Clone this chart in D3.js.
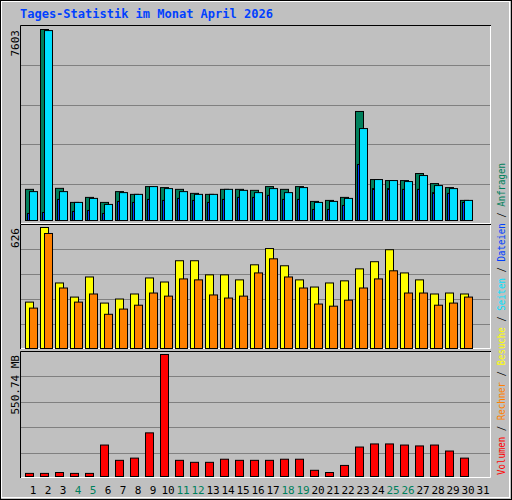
<!DOCTYPE html>
<html>
<head>
<meta charset="utf-8">
<script src="https://cdn.jsdelivr.net/npm/d3@7"></script>
<style>
  body { margin: 0; background: #fff; }
  text { font-family: "DejaVu Sans Mono", "Liberation Mono", monospace; }
</style>
</head>
<body>
<svg id="chart" width="512" height="500"></svg>
<script>
// Tages-Statistik, values
const days = d3.range(1, 32);
const weekend = [4, 5, 11, 12, 18, 19, 25, 26];
const anfragen = [1240, 7603, 1280, 720, 920, 720, 1150, 1040, 1350, 1310, 1240, 1080, 1040, 1240, 1240, 1200, 1350, 1240, 1350, 760, 800, 920, 4340, 1630, 1590, 1590, 1870, 1470, 1310, 800, 0];
const dateien = [1150, 7560, 1150, 720, 880, 640, 1110, 1040, 1350, 1270, 1150, 1040, 1040, 1240, 1200, 1110, 1270, 1110, 1310, 720, 760, 880, 3660, 1630, 1590, 1550, 1790, 1390, 1270, 800, 0];
const seiten = [280, 320, 840, 360, 400, 280, 760, 720, 840, 800, 880, 800, 720, 840, 920, 920, 1000, 840, 840, 440, 440, 600, 2230, 1270, 1270, 1240, 1240, 1110, 1080, 720, 0];
const besuche = [240, 626, 339, 266, 370, 235, 256, 282, 365, 344, 454, 454, 381, 381, 355, 433, 517, 428, 355, 318, 339, 350, 412, 449, 511, 391, 355, 282, 287, 282, 0];
const rechner = [209, 595, 313, 240, 282, 177, 204, 224, 287, 271, 360, 355, 277, 261, 271, 391, 464, 370, 313, 230, 219, 250, 313, 360, 402, 287, 287, 224, 235, 266, 0];
const volumen = [14, 14, 18, 14, 14, 142, 73, 83, 197, 550.74, 73, 64, 64, 78, 73, 73, 73, 78, 78, 28, 18, 50, 133, 147, 147, 142, 138, 142, 115, 83, 0];

const svg = d3.select('#chart');
const left = 20, right = 491;

// frame
svg.append('rect').attr('x', 0.5).attr('y', 0.5).attr('width', 511).attr('height', 499)
  .attr('fill', '#c0c0c0').attr('stroke', '#000');
svg.append('rect').attr('x', 1.5).attr('y', 1.5).attr('width', 508).attr('height', 496)
  .attr('fill', 'none').attr('stroke', '#fff');

svg.append('text').attr('x', 20).attr('y', 18)
  .attr('fill', '#0040ff').attr('font-weight', 'bold').attr('font-size', 12)
  .text('Tages-Statistik im Monat April 2026');

const x = d3.scaleBand().domain(days).range([25, 25 + 15 * 31]);

const panels = [
  {top: 25, bottom: 224, base: 220, max: 7603, label: '7603', labelY: 30},
  {top: 224, bottom: 349, base: 348, max: 626, label: '626', labelY: 228},
  {top: 351, bottom: 478, base: 476, max: 550.74, label: '550.74 MB', labelY: 355}
];

panels.forEach(p => {
  svg.append('rect').attr('x', left + 0.5).attr('y', p.top + 0.5)
    .attr('width', right - left - 1).attr('height', p.bottom - p.top - 1)
    .attr('fill', '#c0c0c0');
  const g = [1, 2, 3, 4].map(k => p.top + (p.bottom - p.top) * k / 5);
  svg.selectAll(null).data(g).join('line')
    .attr('x1', left + 1).attr('x2', right - 1)
    .attr('y1', d => Math.round(d) + 0.5).attr('y2', d => Math.round(d) + 0.5)
    .attr('stroke', '#808080');
  // 3d borders
  svg.append('path').attr('d', `M${left + 0.5},${p.bottom}V${p.top + 0.5}H${right}`)
    .attr('fill', 'none').attr('stroke', '#000');
  svg.append('path').attr('d', `M${left + 1},${p.bottom - 0.5}H${right - 0.5}V${p.top + 1}`)
    .attr('fill', 'none').attr('stroke', '#fff');
  p.y = d3.scaleLinear().domain([0, p.max]).range([p.base, p.base - (p.base - p.labelY + 1)]);
  svg.append('text')
    .attr('transform', `translate(19,${p.labelY}) rotate(-90)`)
    .attr('text-anchor', 'end').attr('font-size', 11).attr('fill', '#000')
    .text(p.label);
});

function bars(data, p, dx, w, color) {
  svg.append('g').selectAll('rect').data(days.filter((d, i) => data[i] > 0)).join('rect')
    .attr('x', d => x(d) + dx + 0.5)
    .attr('y', d => p.y(data[d - 1]) + 0.5)
    .attr('width', w)
    .attr('height', d => p.base - p.y(data[d - 1]))
    .attr('fill', color).attr('stroke', '#000');
}

bars(anfragen, panels[0], 0, 8, '#00805c');
bars(dateien, panels[0], 4, 8, '#00e0ff');
bars(seiten, panels[0], 2, 2, '#0040ff');
bars(besuche, panels[1], 0, 8, '#ffff00');
bars(rechner, panels[1], 4, 8, '#ff8000');
bars(volumen, panels[2], 0, 8, '#ff0000');

// day labels
svg.append('g').selectAll('text').data(days).join('text')
  .attr('x', d => x(d) + 8).attr('y', 494)
  .attr('text-anchor', 'middle').attr('font-size', 11)
  .attr('fill', d => weekend.includes(d) ? '#00805c' : '#000')
  .text(d => d);

// right legend
const legend = [
  ['Volumen', '#ff0000'], ['Rechner', '#ff8000'], ['Besuche', '#ffff00'],
  ['Seiten', '#00e0ff'], ['Dateien', '#0040ff'], ['Anfragen', '#00805c']
];
const lt = svg.append('text')
  .attr('transform', 'translate(505,475) rotate(-90)')
  .attr('font-size', 11).attr('textLength', 312).attr('lengthAdjust', 'spacingAndGlyphs');
legend.forEach(([name, c], i) => {
  if (i > 0) lt.append('tspan').attr('fill', '#000').text(' / ');
  lt.append('tspan').attr('fill', c).text(name);
});
</script>
</body>
</html>
